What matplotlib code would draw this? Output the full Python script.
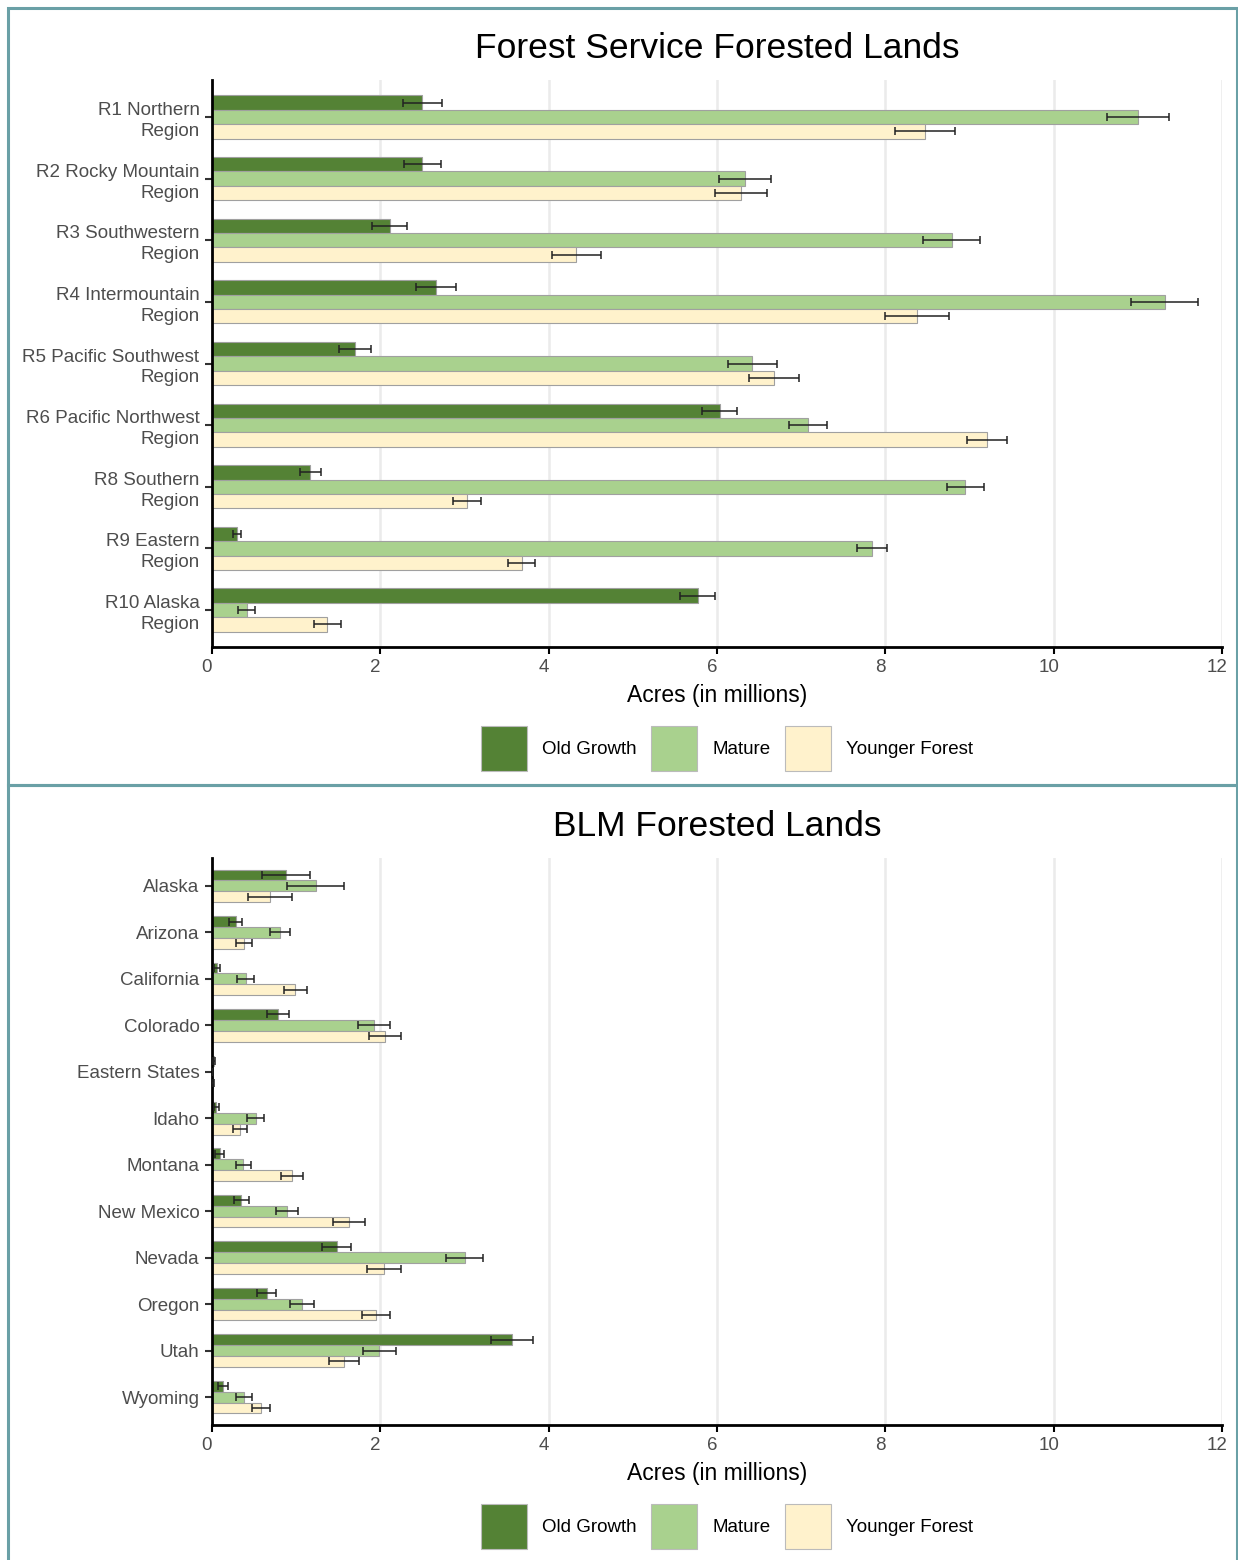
import matplotlib.pyplot as plt
from matplotlib.patches import Rectangle
from matplotlib.transforms import ScaledTranslation
import numpy as np

plt.rcParams['font.family'] = ['Liberation Sans', 'DejaVu Sans']

# Forest Service regions
fs_regions = ["R1 Northern\nRegion", "R2 Rocky Mountain\nRegion", "R3 Southwestern\nRegion",
              "R4 Intermountain\nRegion", "R5 Pacific Southwest\nRegion", "R6 Pacific Northwest\nRegion",
              "R8 Southern\nRegion", "R9 Eastern\nRegion", "R10 Alaska\nRegion"]
fs_old = [2.50, 2.50, 2.11, 2.66, 1.70, 6.03, 1.17, 0.30, 5.77]
fs_old_err = [0.23, 0.22, 0.21, 0.24, 0.19, 0.21, 0.12, 0.05, 0.21]
fs_mature = [11.00, 6.33, 8.79, 11.32, 6.42, 7.08, 8.95, 7.84, 0.41]
fs_mature_err = [0.37, 0.31, 0.34, 0.40, 0.29, 0.23, 0.22, 0.18, 0.10]
fs_young = [8.47, 6.29, 4.33, 8.38, 6.68, 9.21, 3.03, 3.68, 1.37]
fs_young_err = [0.36, 0.31, 0.29, 0.38, 0.30, 0.24, 0.17, 0.16, 0.16]

# BLM states
blm_states = ["Alaska", "Arizona", "California", "Colorado", "Eastern States", "Idaho",
              "Montana", "New Mexico", "Nevada", "Oregon", "Utah", "Wyoming"]
blm_old = [0.88, 0.28, 0.06, 0.78, 0.02, 0.05, 0.09, 0.35, 1.48, 0.65, 3.56, 0.13]
blm_old_err = [0.29, 0.08, 0.035, 0.13, 0.01, 0.03, 0.05, 0.09, 0.17, 0.11, 0.25, 0.06]
blm_mature = [1.23, 0.81, 0.40, 1.92, 0.0, 0.52, 0.37, 0.89, 3.00, 1.07, 1.99, 0.38]
blm_mature_err = [0.34, 0.12, 0.10, 0.19, 0.0, 0.10, 0.09, 0.135, 0.22, 0.14, 0.20, 0.095]
blm_young = [0.69, 0.38, 0.99, 2.05, 0.01, 0.33, 0.95, 1.63, 2.04, 1.95, 1.57, 0.58]
blm_young_err = [0.26, 0.09, 0.14, 0.19, 0.01, 0.085, 0.135, 0.19, 0.20, 0.17, 0.18, 0.11]

series_names = ["Old Growth", "Mature", "Younger Forest"]
colors = ["#548235", "#A9D18E", "#FFF2CC"]

W, H = 1238, 1560
fig = plt.figure(figsize=(W / 100, H / 100), dpi=100)

# teal panel borders
border = "#6AA0A6"
fig.add_artist(Rectangle((8 / W, 1 - 785 / H), 1229 / W, 777 / H, transform=fig.transFigure,
                         fill=False, edgecolor=border, linewidth=2.2))
fig.add_artist(Rectangle((8 / W, -0.01), 1229 / W, 1 - 785 / H + 0.01, transform=fig.transFigure,
                         fill=False, edgecolor=border, linewidth=2.2))


def panel(ax, cats, vals, errs, title):
    n = len(cats)
    y = np.arange(n)
    w = 0.7 / 3
    for k in range(3):
        pos = y + (k - 1) * w
        ax.barh(pos, vals[k], height=w, color=colors[k], edgecolor="#A0A0A0",
                linewidth=0.8, label=series_names[k], zorder=2)
        ax.errorbar(vals[k], pos, xerr=errs[k], fmt="none", ecolor="#222222",
                    elinewidth=1.1, capsize=3, capthick=1.1, zorder=3)
    ax.set_xlim(0, 12)
    ax.set_ylim(n - 1 + 0.6, -0.6)
    ax.set_yticks(y)
    ax.set_yticklabels(cats, fontsize=13.5, color="#4D4D4D", ha="right", linespacing=1.3)
    ax.set_xticks(np.arange(0, 13, 2))
    ax.tick_params(axis="x", labelsize=13.5, colors="#4D4D4D", length=5, width=1.5, color="black")
    ax.tick_params(axis="y", length=5, width=1.5, color="#333333", pad=4)
    shift = ScaledTranslation(-5 / 100, 0, fig.dpi_scale_trans)
    for lab in ax.get_xticklabels():
        lab.set_transform(lab.get_transform() + shift)
    ax.grid(axis="x", color="#EBEBEB", linewidth=1.8, zorder=0)
    ax.set_axisbelow(True)
    for s in ["top", "right"]:
        ax.spines[s].set_visible(False)
    for s in ["left", "bottom"]:
        ax.spines[s].set_linewidth(2)
        ax.spines[s].set_color("black")
    ax.set_xlabel("Acres (in millions)", fontsize=16.5, labelpad=6)
    ax.set_title(title, fontsize=25.5, pad=16)
    leg = ax.legend(loc="center", bbox_to_anchor=(0.51, -0.179), ncol=3, frameon=False,
                    fontsize=13.5, handlelength=2.45, handleheight=3.39,
                    handletextpad=0.8, columnspacing=0.8)
    for h in leg.legend_handles:
        h.set_edgecolor("#BBBBBB")
        h.set_linewidth(0.8)


ax1 = fig.add_axes([212 / W, 1 - 647 / H, 1010 / W, 567 / H])
panel(ax1, fs_regions, [fs_old, fs_mature, fs_young], [fs_old_err, fs_mature_err, fs_young_err],
      "Forest Service Forested Lands")

ax2 = fig.add_axes([212 / W, 1 - 1425 / H, 1010 / W, 567 / H])
panel(ax2, blm_states, [blm_old, blm_mature, blm_young], [blm_old_err, blm_mature_err, blm_young_err],
      "BLM Forested Lands")

fig.savefig("out.png", dpi=100)
